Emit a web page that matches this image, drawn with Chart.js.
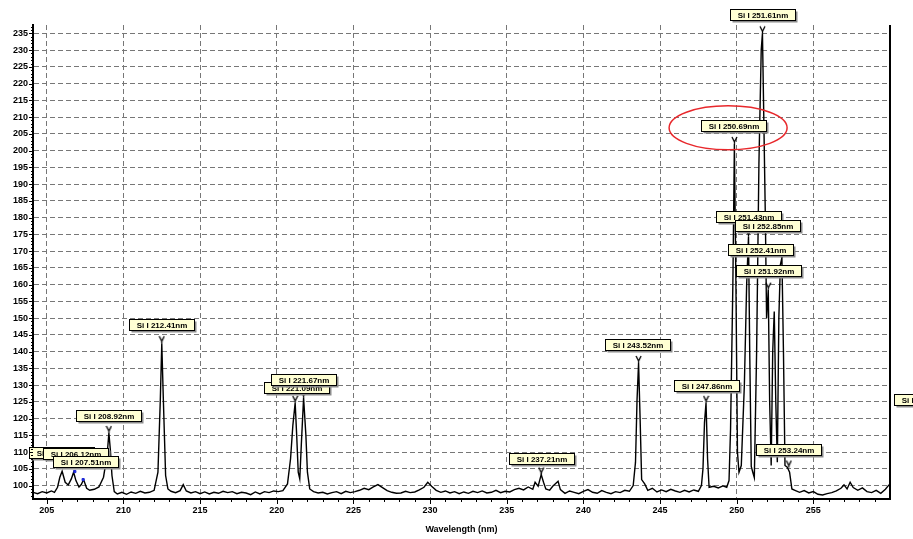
<!DOCTYPE html>
<html>
<head>
<meta charset="utf-8">
<script src="https://cdn.jsdelivr.net/npm/chart.js@4.4.1/dist/chart.umd.min.js"></script>
<style>
  body { margin: 0; background: #fff; }
  #wrap { width: 913px; height: 539px; }
</style>
</head>
<body>
<div id="wrap"><canvas id="spectrum" width="913" height="539"></canvas></div>
<script>
// Spectrum (wavelength in nm, intensity in counts)
const wavelength = [
  204.1, 204.4, 204.7, 205.0, 205.3, 205.5, 205.7, 205.85, 206.0, 206.2, 206.4, 206.6, 206.75, 206.9,
  207.1, 207.25, 207.4, 207.6, 207.8, 208.1, 208.4, 208.7, 208.85, 208.95, 209.05, 209.15, 209.25, 209.4,
  209.6, 209.9, 210.2, 210.5, 210.8, 211.1, 211.4, 211.7, 212.0, 212.25, 212.4, 212.5, 212.6, 212.75,
  212.9, 213.1, 213.4, 213.7, 213.9, 214.1, 214.4, 214.7, 215.0, 215.3, 215.6, 215.9, 216.2, 216.5,
  216.8, 217.1, 217.4, 217.7, 218.0, 218.3, 218.6, 218.9, 219.2, 219.5, 219.8, 220.1, 220.4, 220.7,
  220.9, 221.05, 221.2, 221.3, 221.4, 221.5, 221.6, 221.75, 221.9, 222.0, 222.15, 222.4, 222.7, 223.0,
  223.3, 223.6, 223.9, 224.2, 224.5, 224.8, 225.1, 225.4, 225.7, 226.0, 226.3, 226.6, 226.9, 227.2,
  227.5, 227.8, 228.1, 228.4, 228.7, 229.0, 229.3, 229.6, 229.85, 230.1, 230.4, 230.7, 231.0, 231.3,
  231.6, 231.9, 232.2, 232.5, 232.8, 233.1, 233.4, 233.7, 234.0, 234.3, 234.6, 234.9, 235.2, 235.5,
  235.8, 236.1, 236.4, 236.7, 236.85, 237.05, 237.25, 237.4, 237.55, 237.8, 238.0, 238.35, 238.5, 238.8,
  239.1, 239.4, 239.7, 240.0, 240.3, 240.6, 240.9, 241.2, 241.5, 241.8, 242.1, 242.4, 242.7, 243.0,
  243.25, 243.4, 243.5, 243.6, 243.7, 243.8, 244.0, 244.2, 244.5, 244.8, 245.1, 245.4, 245.7, 246.0,
  246.3, 246.6, 246.9, 247.2, 247.5, 247.7, 247.8, 247.9, 248.0, 248.1, 248.2, 248.5, 248.8, 249.1,
  249.35, 249.5, 249.6, 249.75, 249.85, 249.95, 250.05, 250.15, 250.3, 250.5, 250.65, 250.77, 250.85, 250.95,
  251.05, 251.15, 251.3, 251.45, 251.6, 251.68, 251.75, 251.87, 251.95, 252.06, 252.15, 252.25, 252.35, 252.45,
  252.55, 252.65, 252.75, 252.85, 252.95, 253.05, 253.15, 253.3, 253.45, 253.6, 253.8, 254.1, 254.4, 254.7,
  255.0, 255.3, 255.6, 255.9, 256.2, 256.5, 256.8, 257.0, 257.2, 257.4, 257.6, 257.9, 258.2, 258.5,
  258.8, 259.1, 259.4, 259.7, 259.95
];
const intensity = [
  98.0, 97.6, 98.2, 97.8, 98.4, 98.0, 99.5, 102.5, 104.3, 101.0, 100.2, 102.0, 104.0, 101.5,
  99.6, 100.3, 101.8, 99.2, 98.6, 98.9, 99.6, 102.5, 106.8, 110.0, 115.7, 110.5, 103.0, 98.2,
  97.5, 98.0, 97.4, 98.1, 97.7, 98.3, 97.8, 98.0, 98.6, 104.0, 125.0, 142.5, 126.0, 103.0,
  99.0, 98.3, 97.9, 98.5, 100.3, 98.4, 97.8, 98.2, 97.6, 98.1, 97.5, 98.0, 97.7, 98.3,
  97.9, 98.2, 97.6, 98.0, 97.8, 97.3, 98.1, 97.5, 98.2, 97.9, 98.4, 98.2, 98.5, 100.5,
  108.0, 118.0, 124.7, 115.0, 104.0, 102.0, 112.0, 126.2, 115.0, 104.0, 99.0, 98.2, 97.8, 98.0,
  97.5, 97.9, 98.2, 97.6, 98.3, 97.9, 98.2, 98.6, 99.2, 98.8, 99.6, 100.3, 99.4, 98.5,
  98.0, 97.7, 97.8, 98.3, 97.9, 98.1, 98.7, 99.5, 101.0, 99.8, 98.6, 98.0, 98.4, 97.8,
  98.2, 97.6, 98.1, 97.7, 98.3, 97.9, 98.4, 97.8, 98.0, 98.6, 97.9, 98.3, 98.1, 98.8,
  99.2, 98.7, 99.6, 98.9, 101.0, 99.8, 103.3, 101.0, 99.0, 98.6, 99.8, 101.3, 98.8, 97.7,
  98.4, 98.0, 97.6, 98.3, 98.8, 98.0, 97.7, 98.5, 98.0, 97.6, 98.2, 97.9, 98.6, 98.3,
  100.0, 107.0, 125.6, 136.6, 120.0, 101.8, 100.5, 98.6, 99.2, 98.1, 98.7, 98.2, 98.9, 98.4,
  98.0, 98.6, 98.1, 98.7, 98.3, 100.0, 105.0, 118.8, 124.7, 108.0, 99.5, 99.8, 99.3, 99.9,
  99.5, 101.5, 117.0, 160.0, 202.0, 160.0, 110.0, 104.0, 106.0, 130.0, 160.0, 174.3, 140.0, 105.7,
  104.0, 102.4, 140.0, 196.0, 230.0, 235.0, 215.0, 180.0, 150.0, 158.5, 125.0, 106.0, 140.0, 152.0,
  125.0, 107.0, 150.0, 166.0, 168.0, 140.0, 106.0, 105.5, 104.0, 99.0, 98.6, 98.0, 98.5, 97.8,
  98.2, 97.4, 97.2, 97.6, 97.9, 98.4, 99.2, 100.2, 99.0, 101.0, 99.4, 98.6, 99.3, 98.2,
  97.9, 98.6, 97.7, 98.9, 100.3
];

// Peak tops that carry the small "Y" marker
const peakX = [209.05, 212.5, 221.2, 221.75, 237.25, 243.6, 248.0, 249.85, 250.77, 251.68, 252.06, 252.95, 253.4];
const peakY = [115.7, 142.5, 124.7, 126.2, 103.3, 136.6, 124.7, 202.0, 174.3, 235.0, 158.5, 168.0, 105.4];

// Two blue points in the left cluster
const blueX = [206.83, 207.37];
const blueY = [104.2, 101.8];

// Line identification labels (text, wavelength, intensity of label centre)
const labelText = [
  'Si I 205.81nm', 'Si I 206.12nm', 'Si I 207.51nm', 'Si I 208.92nm', 'Si I 212.41nm',
  'Si I 221.09nm', 'Si I 221.67nm', 'Si I 237.21nm', 'Si I 243.52nm', 'Si I 247.86nm',
  'Si I 250.69nm', 'Si I 251.43nm', 'Si I 252.85nm', 'Si I 252.41nm', 'Si I 251.92nm',
  'Si I 253.24nm', 'Si I 251.61nm', 'Si I 288.16nm'
];
const labelX = [
  205.93, 206.85, 207.5, 209.03, 212.45,
  221.27, 221.72, 237.3, 243.5, 248.0,
  249.77, 250.75, 252.0, 251.55, 252.05,
  253.35, 251.68, 262.4
];
const labelY = [
  110.0, 109.5, 107.2, 120.9, 148.2,
  129.4, 131.6, 108.0, 142.2, 129.8,
  207.4, 180.2, 177.5, 170.4, 164.1,
  110.7, 240.5, 125.6
];

// Highlight around the 250 nm label
const circleX = 249.44;
const circleY = 206.8;

const xTicks = [205, 210, 215, 220, 225, 230, 235, 240, 245, 250, 255];
const yTicks = [];
for (let v = 100; v <= 235; v += 5) yTicks.push(v);

// small "Y" used as the peak marker
const markCanvas = document.createElement('canvas');
markCanvas.width = 7;
markCanvas.height = 16;
(function () {
  const c = markCanvas.getContext('2d');
  c.strokeStyle = '#000';
  c.lineWidth = 1.3;
  c.beginPath();
  c.moveTo(1, 1); c.lineTo(3.5, 6);
  c.lineTo(6, 1);
  c.moveTo(3.5, 6); c.lineTo(3.5, 8);
  c.stroke();
})();

// Minor ticks and right frame line
const frame = {
  id: 'frame',
  afterDraw(chart) {
    const { ctx, chartArea: a, scales: { x, y } } = chart;
    ctx.save();
    ctx.strokeStyle = '#000';
    ctx.lineWidth = 1;
    ctx.beginPath();
    for (let v = 97; v <= 237; v++) {
      const py = Math.round(y.getPixelForValue(v)) + 0.5;
      const len = v % 5 === 0 ? 4 : 2;
      ctx.moveTo(a.left - len, py);
      ctx.lineTo(a.left, py);
    }
    for (let w = 205; w <= 259; w++) {
      const px = Math.round(x.getPixelForValue(w)) + 0.5;
      const len = w % 5 === 0 ? 5 : 3;
      ctx.moveTo(px, a.bottom);
      ctx.lineTo(px, a.bottom + len);
    }
    ctx.stroke();
    ctx.lineWidth = 2;
    ctx.beginPath();
    ctx.moveTo(a.right, a.top);
    ctx.lineTo(a.right, a.bottom + 1);
    ctx.stroke();
    ctx.restore();
  }
};

// Labels with shadow, and the red ellipse
const peakNotes = {
  id: 'peakNotes',
  afterDatasetsDraw(chart) {
    const { ctx, scales: { x, y } } = chart;
    ctx.save();
    ctx.font = 'bold 8px "Liberation Sans", Arial, sans-serif';
    ctx.textAlign = 'center';
    ctx.textBaseline = 'middle';
    labelText.forEach((t, i) => {
      const cx = x.getPixelForValue(labelX[i]);
      const cy = y.getPixelForValue(labelY[i]);
      const w = Math.round(ctx.measureText(t).width) + 14;
      const h = 11;
      const l = Math.round(cx - w / 2) + 0.5;
      const tp = Math.round(cy - h / 2) + 0.5;
      ctx.fillStyle = '#8c8c8c';
      ctx.fillRect(l + 2, tp + 2, w, h);
      ctx.fillStyle = '#ffffd4';
      ctx.fillRect(l, tp, w, h);
      ctx.strokeStyle = '#000';
      ctx.lineWidth = 1;
      ctx.strokeRect(l, tp, w, h);
      ctx.fillStyle = '#000';
      ctx.fillText(t, l + w / 2, tp + h / 2 + 1);
    });
    ctx.strokeStyle = '#e8282c';
    ctx.lineWidth = 1.5;
    ctx.beginPath();
    ctx.ellipse(x.getPixelForValue(circleX), y.getPixelForValue(circleY), 59, 22, 0, 0, Math.PI * 2);
    ctx.stroke();
    ctx.restore();
  }
};

const tickFont = { family: '"Liberation Sans", Arial, sans-serif', size: 9, weight: 'bold' };

new Chart(document.getElementById('spectrum'), {
  type: 'scatter',
  data: {
    datasets: [
      {
        data: wavelength.map((w, i) => ({ x: w, y: intensity[i] })),
        showLine: true,
        borderColor: '#000',
        borderWidth: 1.4,
        pointRadius: 0,
        tension: 0,
        order: 2
      },
      {
        data: peakX.map((w, i) => ({ x: w, y: peakY[i] })),
        pointStyle: markCanvas,
        pointRadius: 4,
        order: 1
      },
      {
        data: blueX.map((w, i) => ({ x: w, y: blueY[i] })),
        pointStyle: 'rect',
        pointRadius: 1.5,
        backgroundColor: '#1f2bd8',
        borderColor: '#1f2bd8',
        order: 0
      }
    ]
  },
  options: {
    responsive: false,
    animation: false,
    layout: { padding: { top: 25, right: 23, left: 0, bottom: 0 } },
    plugins: {
      legend: { display: false },
      tooltip: { enabled: false }
    },
    scales: {
      x: {
        type: 'linear',
        min: 204.1,
        max: 260,
        afterBuildTicks: axis => { axis.ticks = xTicks.map(v => ({ value: v })); },
        afterFit: axis => { axis.height = 40; },
        ticks: { color: '#000', font: tickFont, padding: 6, maxRotation: 0 },
        grid: { color: '#777', lineWidth: 1, drawTicks: false },
        border: { display: true, color: '#000', width: 2, dash: [5, 3] },
        title: {
          display: true,
          text: 'Wavelength (nm)',
          color: '#000',
          font: { family: '"Liberation Sans", Arial, sans-serif', size: 9, weight: 'bold' },
          padding: { top: 0, bottom: 4 }
        }
      },
      y: {
        type: 'linear',
        min: 96,
        max: 237.5,
        afterBuildTicks: axis => { axis.ticks = yTicks.map(v => ({ value: v })); },
        afterFit: axis => { axis.width = 33; },
        ticks: { color: '#000', font: tickFont, padding: 5 },
        grid: { color: '#777', lineWidth: 1, drawTicks: false },
        border: { display: true, color: '#000', width: 2, dash: [5, 3] }
      }
    }
  },
  plugins: [frame, peakNotes]
});
</script>
</body>
</html>
